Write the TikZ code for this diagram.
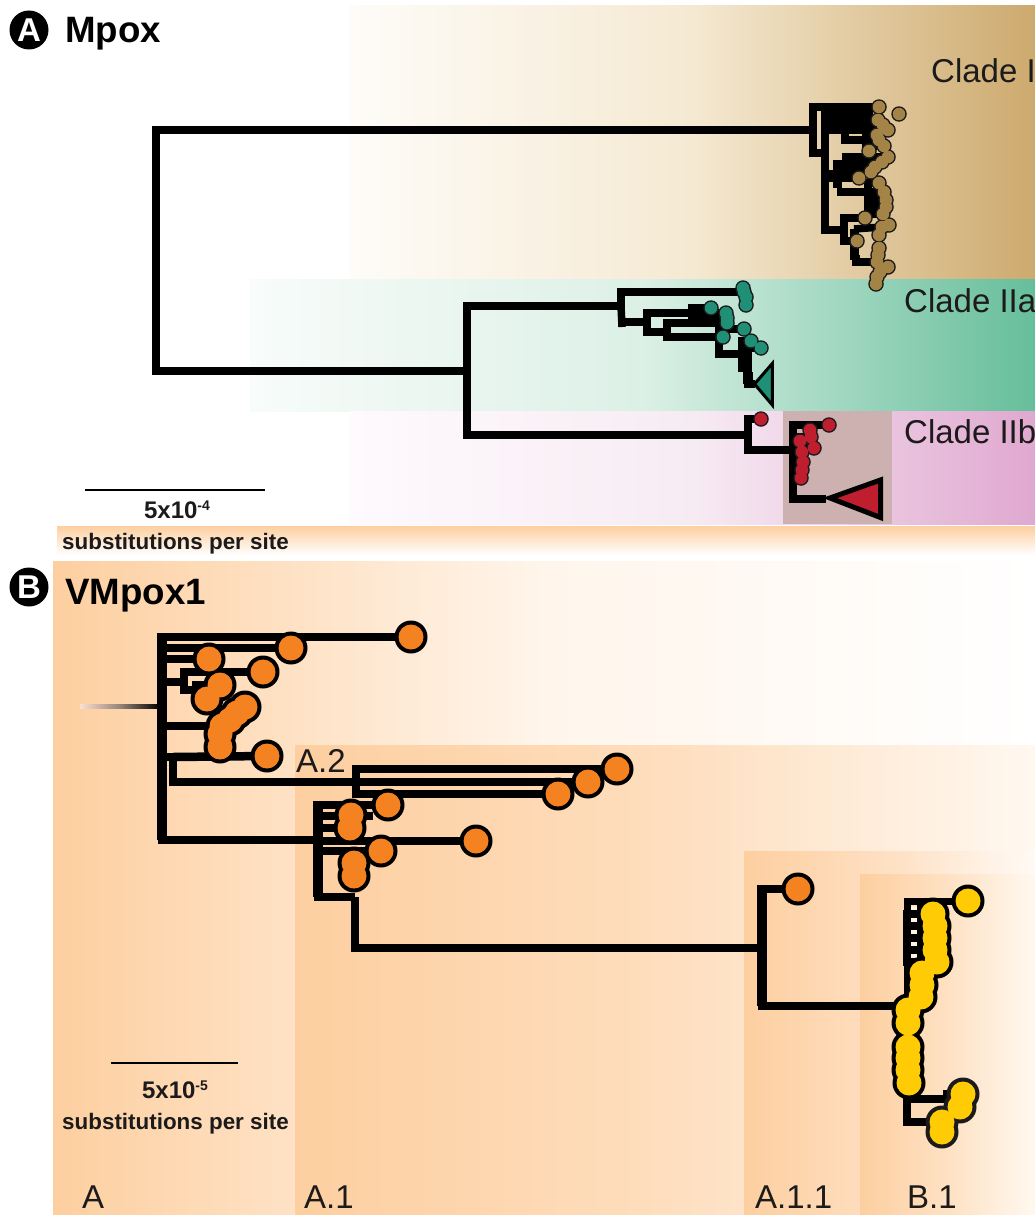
\documentclass[tikz,border=0pt]{standalone}
\usepackage{fontspec}
\setmainfont{Liberation Sans}

\definecolor{tipbrown}{RGB}{163,132,70}
\definecolor{tipteal}{RGB}{31,143,117}
\definecolor{tipred}{RGB}{190,30,45}
\definecolor{tiporange}{RGB}{245,130,32}
\definecolor{tipyellow}{RGB}{255,203,5}
\definecolor{bandpeach}{RGB}{253,207,160}
\definecolor{labelgrey}{RGB}{28,26,26}

\tikzset{
  branchA/.style={line width=7.5pt,line join=miter},
  branchB/.style={line width=8.5pt,line join=miter},
  smallout/.style={circle,fill=labelgrey,inner sep=0pt,minimum size=15.5pt},
  smallfill/.style={circle,fill=#1,inner sep=0pt,minimum size=12.5pt},
  bigout/.style={circle,fill=#1,inner sep=0pt,minimum size=33pt},
  bigfill/.style={circle,fill=#1,inner sep=0pt,minimum size=25pt},
  cladelabel/.style={inner sep=0pt,anchor=base west,text=labelgrey,font=\fontsize{33}{33}\selectfont},
  paneltitle/.style={inner sep=0pt,anchor=base west,font=\fontsize{36.7}{36}\selectfont\bfseries},
  panelmark/.style={circle,fill=black,text=white,inner sep=0pt,minimum size=39pt,font=\fontsize{33}{33}\selectfont\bfseries},
  scaletext/.style={inner sep=0pt,anchor=base,text=labelgrey,font=\fontsize{22.4}{24}\selectfont\bfseries},
  scaleexp/.style={inner sep=0pt,anchor=base,text=labelgrey,font=\fontsize{24}{24}\selectfont\bfseries},
}

\newcommand{\expo}[1]{\raisebox{8pt}{\fontsize{14}{14}\selectfont #1}}
\newcommand{\tipnames}[2]{\foreach \n/\x/\y in #2 {\coordinate (#1\n) at (\x,\y);}}
\newcommand{\drawtips}[4]{%
  \foreach \n/\x/\y in #2 {\node[#3] (#1o\n) at (\x,\y) {};}%
  \foreach \n/\x/\y in #2 {\node[#4] (#1f\n) at (\x,\y) {};}}

\def\tipsI{1/879/107,2/899/114,3/878/120,4/883/125,5/888/130,6/877/135,7/879/140,8/884/146,9/869/151,10/888/157,11/882/162,12/875/167,13/871/172,14/859/178,15/879/183,16/884/192,17/886/200,18/886/207,19/883/214,20/865/218,21/889/225,22/882/227,23/879/235,24/857/241,25/879/248,26/878/255,27/877/262,28/888/267,29/880/272,30/877/277,31/876/284}
\def\tipsIIa{1/743/288,2/744/292,3/746/297,4/746/305,5/711/308,6/726/313,7/727/318,8/727/323,9/723/337,10/744/329,11/751/341,12/761/348}
\def\tipsIIb{1/761/419,2/829/425,3/810/430,4/811/437,5/800/441,6/814/448,7/802/452,8/803/462,9/802/470,10/801/478}
\def\tipsA{1/411/637,2/291/648,3/209/659,4/263/672,5/220/685,6/207/699,7/245/707,8/237/713,9/230/720,10/222/726,11/220/734,12/220/747,13/267/756}
\def\tipsAtwo{1/617/769,2/588/782,3/558/794,4/388/805,5/351/815,6/350/828,7/476/841,8/381/851,9/354/863,10/354/876,11/798/889}
\def\tipsBone{1/968/901,2/933/914,3/935/926,4/935/938,5/935/950,6/937/962,7/922/973,8/922/985,9/921/997,10/908/1010,11/908/1023,12/908/1047,13/908/1058,14/908/1070,15/909/1083}
\def\tipsBtwo{1/963/1094,2/960/1107,3/942/1122,4/942/1132}

\begin{document}
\begin{tikzpicture}[x=1pt,y=-1pt]
\useasboundingbox (0,0) rectangle (1035,1215);

% panel A bands
\shade[left color={rgb,255:red,254;green,252;blue,248},right color={rgb,255:red,205;green,170;blue,110},middle color={rgb,255:red,245;green,233;blue,210}] (350,6) rectangle (1035,279);
\shade[left color={rgb,255:red,248;green,252;blue,250},right color={rgb,255:red,102;green,190;blue,155},middle color={rgb,255:red,220;green,240;blue,230}] (250,279) rectangle (1035,411);
\shade[left color={rgb,255:red,254;green,250;blue,253},right color={rgb,255:red,224;green,168;blue,208},middle color={rgb,255:red,247;green,235;blue,243}] (350,411) rectangle (1035,524);
\fill[fill={rgb,255:red,205;green,176;blue,176}] (783,411) rectangle (892,524);
\shade[top color=bandpeach,bottom color=white] (57,526) rectangle (1035,555);

% panel B bands
\shade[left color=bandpeach,right color=white,middle color={rgb,255:red,255;green,245;blue,235}] (53,561) rectangle (1035,1215);
\shade[left color=bandpeach,right color={rgb,255:red,255;green,248;blue,240},middle color={rgb,255:red,254;green,222;blue,190}] (295,745) rectangle (1035,1215);
\shade[left color=bandpeach,right color={rgb,255:red,255;green,250;blue,245},middle color={rgb,255:red,254;green,224;blue,195}] (744,851) rectangle (1035,1215);
\shade[left color=bandpeach,right color={rgb,255:red,255;green,248;blue,240},middle color={rgb,255:red,254;green,225;blue,195}] (860,874) rectangle (1035,1215);

\node[panelmark] (markA) at (29,30) {A};
\node[panelmark] (markB) at (29,587) {B};
\node[paneltitle] (titleA) at (65,43) {Mpox};
\node[paneltitle] (titleB) at (65,604) {VMpox1};

\node[cladelabel] (cladeI) at (931,82) {Clade I};
\node[cladelabel] (cladeIIa) at (904,312) {Clade IIa};
\node[cladelabel] (cladeIIb) at (904,443) {Clade IIb};

\tipnames{c}{\tipsI}
\tipnames{g}{\tipsIIa}
\tipnames{r}{\tipsIIb}
\tipnames{a}{\tipsA}
\tipnames{d}{\tipsAtwo}
\tipnames{f}{\tipsBone}
\tipnames{h}{\tipsBtwo}

% Mpox tree
\coordinate (root) at (156,250);
\coordinate (nI) at (813,130);
\coordinate (nII) at (467,371);
\draw[branchA] (root) |- (nI);
\draw[branchA] (root) |- (nII);

\coordinate (nIb) at (825,153);
\coordinate (nIc) at (827,230);
\coordinate (nId) at (845,129);
\coordinate (nIe) at (866,130);
\coordinate (nIf) at (837,174);
\coordinate (nIg) at (846,167);
\coordinate (nIh) at (868,192);
\coordinate (nIi) at (844,230);
\coordinate (nIj) at (854,229);
\coordinate (nIk) at (856,255);
\coordinate (nIl) at (873,113);
\draw[branchA] (nI) |- (c1);
\draw[branchA] (nI) |- (nIb);
\draw[branchA] (nIb) |- (nIl);
\foreach \t in {3,4,5} {\draw[branchA] (nIb) |- (c\t);}
\draw[branchA] (nIb) |- (nIf);
\draw[branchA] (nIb) |- (c14);
\draw[branchA] (nIb) -- (nIb |- nIc) -- (nIi);
\draw[branchA] (nId) |- (c7);
\foreach \t in {6,7,8,9} {\draw[branchA] (nIe) |- (c\t);}
\draw[line width=9pt] (nIf) ++(0,-14) -- ++(0,28);
\foreach \t in {10,11,12,13,14} {\draw[branchA] (nIg) |- (c\t);}
\draw[branchA] (nIf) -- (nIg);
\draw[branchA] (nIf |- nIh) -- (nIh);
\foreach \t in {15,16,17,18,19} {\draw[branchA] (nIh) |- (c\t);}
\draw[branchA] (nIi) |- (c20);
\draw[branchA] (nIi) |- (c24);
\draw[branchA] (nIj) -- (c22);
\draw[line width=9pt] (nIj) |- (nIk);
\draw[branchA] (nIk) |- (c27);

\coordinate (nIIa) at (621,306);
\coordinate (nIIb) at (748,435);
\draw[branchA] (nII) |- (nIIa);
\draw[branchA] (nII) |- (nIIb);

\coordinate (nIIc) at (647,322);
\coordinate (nIId) at (700,313);
\coordinate (nIIe) at (667,332);
\coordinate (nIIf) at (692,315);
\coordinate (nIIg) at (719,337);
\coordinate (nIIh) at (745,354);
\coordinate (nIIi) at (748,372);
\coordinate (nIIj) at (622,327);
\coordinate (tealtip) at (755,384);
\draw[branchA] (nIIa) |- (g2);
\draw[branchA] (nIIa) -- (nIIj);
\draw[branchA] (nIIa |- nIIc) -- (nIIc);
\draw[branchA] (nIIc) |- (nIId);
\draw[branchA] (nIIc) |- (nIIe);
\foreach \t in {5,6,7,8} {\draw[branchA] (nIIf) |- (g\t);}
\draw[branchA] (nIIe) |- (g8);
\draw[branchA] (nIIe) |- (g9);
\draw[branchA] (nIIg) |- (g10);
\draw[branchA] (nIIg) |- (nIIh);
\draw[line width=14pt] (nIIh) ++(0,-17) -- (745,372);
\draw[branchA] (nIIh) |- (g11);
\draw[branchA] (nIIh) |- (g12);
\draw[line width=10pt] (nIIi) -- (tealtip -| nIIi);
\draw[branchA] (nIIi) |- (tealtip);
\draw[line width=3pt,fill=tipteal,line join=miter] (754.5,384) -- (772.3,363.5) -- (772.3,405) -- cycle;

\coordinate (nIIk) at (793,450);
\coordinate (redtip) at (826,499);
\draw[branchA] (nIIb) |- (r1);
\draw[branchA] (nIIb) |- (nIIk);
\draw[line width=7.5pt] (nIIk) |- (r2);
\draw[line width=7.5pt] (nIIk) |- (redtip);
\foreach \t in {4,5,6,7,8,9,10} {\draw[branchA] (nIIk) |- (r\t);}
\draw[line width=5pt,fill=tipred,line join=miter] (830,498) -- (880.5,480) -- (880.5,517.5) -- cycle;

\drawtips{cc}{\tipsI}{smallout}{smallfill=tipbrown}
\drawtips{gg}{\tipsIIa}{smallout}{smallfill=tipteal}
\drawtips{rr}{\tipsIIb}{smallout}{smallfill=tipred}

% VMpox1 tree
\coordinate (nA) at (162,706);
\coordinate (nAa) at (184,682);
\coordinate (nAb) at (196,690);
\coordinate (nAc) at (173,757);
\coordinate (nAd) at (356,782);
\coordinate (nAe) at (318,840);
\coordinate (nAf) at (355,897);
\coordinate (nAg) at (762,948);
\coordinate (nAh) at (373,816);
\coordinate (stemleft) at (80,704);
\coordinate (stemright) at (160,708);
\shade[left color={rgb,255:red,252;green,224;blue,208},right color=black,middle color={rgb,255:red,150;green,130;blue,120}] (stemleft) rectangle (stemright);
\foreach \t in {1,2,3} {\draw[branchB] (nA) |- (a\t);}
\draw[branchB] (nA) |- (nAa);
\draw[branchB] (nAa) |- (a4);
\draw[branchB] (nAa) |- (nAb);
\draw[branchB] (nAb) |- (a5);
\draw[branchB] (nAb) |- (a6);
\draw[branchB] (nA) |- (a10);
\draw[branchB] (nA) |- (nAc);
\draw[branchB] (nAc) -- (a13);
\draw[branchB] (nAc) |- (nAd);
\draw[branchB] (nA) |- (nAe);
\foreach \t in {1,2,3} {\draw[branchB] (nAd) |- (d\t);}
\draw[branchB] (nAe) |- (d4);
\draw[branchB] (nAe) |- (nAh);
\foreach \t in {6,7,8} {\draw[branchB] (nAe) |- (d\t);}
\draw[branchB] (nAe) |- (nAf);
\draw[branchB] (nAf) |- (nAg);
\draw[line width=9.5pt] (nA |- a1) ++(0,-4) -- (nA |- nAe);
\draw[line width=9.5pt] (nAe |- d4) ++(0,-4) -- (nAe |- nAf);

\coordinate (nB) at (907,1006);
\coordinate (nBa) at (907,950);
\coordinate (nBb) at (907,1113);
\coordinate (nBc) at (947,1099);
\coordinate (nBd) at (947,1090);
\coordinate (nBe) at (921,902);
\coordinate (nBf) at (921,966);
\draw[line width=9.5pt] (nAg |- d11) ++(0,-4) -- (nAg |- nB);
\draw[branchB] (nAg) |- (d11);
\draw[branchB] (nAg) |- (nB);
\draw[line width=7pt] (nB) -- (nBa) |- (f1);
\foreach \t in {2,3,4,5,6} {\draw[branchB] (nBa) |- (f\t);}
\draw[line width=8pt] (nBe) -- (nBf);
\foreach \y in {908,920,932,944,956} {\fill[fill={rgb,255:red,255;green,245;blue,222}] (911,\y-2) rectangle (917,\y+2);}
\draw[branchB] (nB) -- (nBb);
\draw[branchB] (nBb) |- (nBc);
\draw[branchB] (nBc) -- (nBd);
\draw[branchB] (nBb) |- (h3);

\drawtips{aa}{\tipsA}{bigout=black}{bigfill=tiporange}
\drawtips{dd}{\tipsAtwo}{bigout=black}{bigfill=tiporange}
\drawtips{ff}{\tipsBone}{bigout=black}{bigfill=tipyellow}
\drawtips{hh}{\tipsBtwo}{bigout=labelgrey}{bigfill=tipyellow}

% scale bars
\coordinate (scaleAleft) at (85,490);
\coordinate (scaleAright) at (265,490);
\coordinate (scaleBleft) at (111,1063);
\coordinate (scaleBright) at (238,1063);
\draw[line width=2.5pt] (scaleAleft) -- (scaleAright);
\draw[line width=2.5pt] (scaleBleft) -- (scaleBright);
\node[scaleexp] (expA) at (177,518) {5x10\expo{-4}};
\node[scaletext] (subsA) at (175.5,549) {substitutions per site};
\node[scaleexp] (expB) at (175,1098) {5x10\expo{-5}};
\node[scaletext] (subsB) at (175.5,1129) {substitutions per site};

\node[cladelabel] (labA) at (82,1208.5) {A};
\node[cladelabel] (labAtwo) at (296,772) {A.2};
\node[cladelabel] (labAone) at (304,1208.5) {A.1};
\node[cladelabel] (labAoneone) at (755,1208.5) {A.1.1};
\node[cladelabel] (labBone) at (907,1208.5) {B.1};
\end{tikzpicture}
\end{document}
